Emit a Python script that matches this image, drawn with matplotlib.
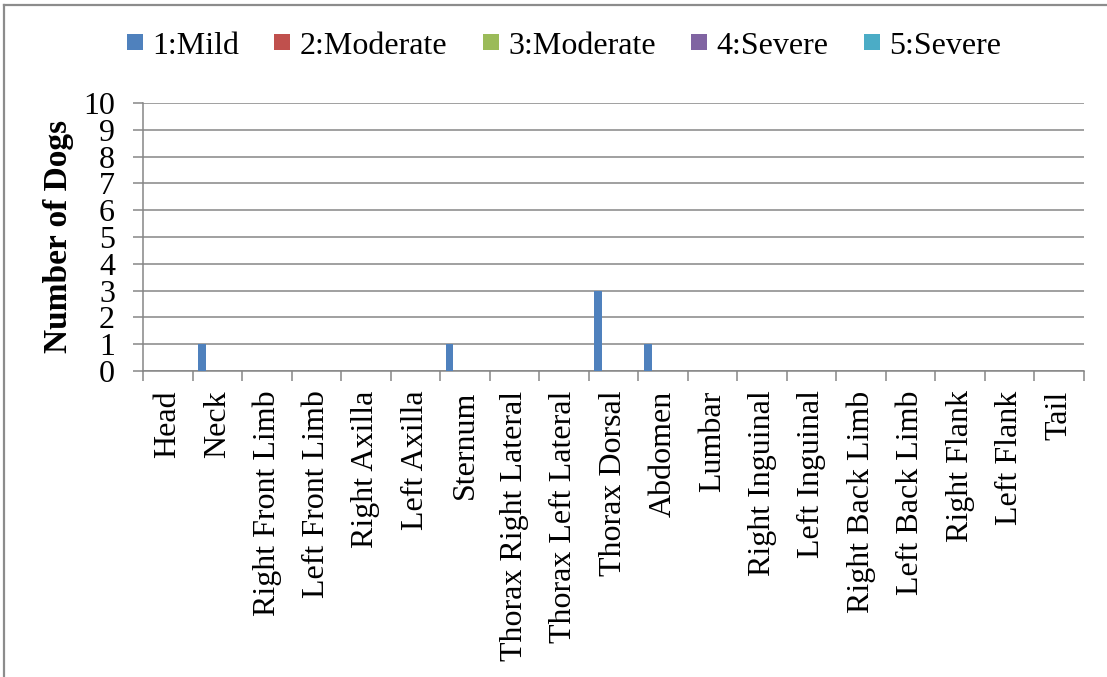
import matplotlib
matplotlib.use("Agg")
import matplotlib.pyplot as plt
import numpy as np
from matplotlib.lines import Line2D

# Body regions and number of dogs per severity grade
regions = ["Head", "Neck", "Right Front Limb", "Left Front Limb", "Right Axilla",
           "Left Axilla", "Sternum", "Thorax Right Lateral", "Thorax Left Lateral",
           "Thorax Dorsal", "Abdomen", "Lumbar", "Right Inguinal", "Left Inguinal",
           "Right Back Limb", "Left Back Limb", "Right Flank", "Left Flank", "Tail"]
series_names = ["1:Mild", "2:Moderate", "3:Moderate", "4:Severe", "5:Severe"]
mild =       [0, 1, 0, 0, 0, 0, 1, 0, 0, 3, 1, 0, 0, 0, 0, 0, 0, 0, 0]
moderate_2 = [0] * 19
moderate_3 = [0] * 19
severe_4 =   [0] * 19
severe_5 =   [0] * 19
series_values = [mild, moderate_2, moderate_3, severe_4, severe_5]
y_ticks = list(range(0, 11))

colors = ["#4F81BD", "#C0504D", "#9BBB59", "#8064A2", "#4BACC6"]
grid_col = "#868686"
serif = ["Liberation Serif", "DejaVu Serif"]

W, H = 1107, 677
fig = plt.figure(figsize=(W / 100, H / 100), dpi=100)
fig.patch.set_facecolor("white")

# chart area frame (top and left edges visible)
fig.add_artist(Line2D([4 / W, 4 / W], [0, 1 - 5 / H], color="#8c8c8c", lw=1.6))
fig.add_artist(Line2D([4 / W, 1], [1 - 5 / H, 1 - 5 / H], color="#8c8c8c", lw=1.6))

ax_l, ax_r, ax_t, ax_b = 143, 1084, 103, 371
ax = fig.add_axes([ax_l / W, 1 - ax_b / H, (ax_r - ax_l) / W, (ax_b - ax_t) / H])

n = len(regions)
x = np.arange(n)
bw = 1 / 6.5
for i, (vals, c) in enumerate(zip(series_values, colors)):
    ax.bar(x + (i - 2) * bw, vals, width=bw, color=c, linewidth=0, zorder=3)

ax.set_xlim(-0.5, n - 0.5)
ax.set_ylim(0, 10)
ax.set_yticks(y_ticks)
ax.set_yticklabels([str(v) for v in y_ticks], fontsize=23, family=serif)
ax.yaxis.grid(True, color=grid_col, lw=1.1, zorder=0)
ax.set_axisbelow(True)

ax.set_xticks(x)
ax.set_xticklabels(regions, rotation=90, fontsize=23, family=serif, va="top", ha="center")
ax.set_xticks(np.arange(-0.5, n, 1), minor=True)
ax.tick_params(axis="x", which="major", length=0, pad=14)
ax.tick_params(axis="x", which="minor", length=7.2, width=1.1, color=grid_col, direction="out")
ax.tick_params(axis="y", length=7.2, width=1.1, color=grid_col, direction="out", pad=13)

for s in ["top", "right"]:
    ax.spines[s].set_visible(False)
for s in ["left", "bottom"]:
    ax.spines[s].set_color(grid_col)
    ax.spines[s].set_linewidth(1.1)

fig.text(58 / W, 1 - 236 / H, "Number of Dogs", rotation=90, ha="center", va="center",
         fontsize=24, fontweight="bold", family=serif)

handles = [Line2D([], [], linestyle="none", marker="s", markersize=11,
                  markerfacecolor=c, markeredgewidth=0) for c in colors]
fig.legend(handles, series_names, loc="center", bbox_to_anchor=(564 / W, 1 - 46 / H),
           ncol=5, frameon=False, prop={"family": serif, "size": 23},
           handlelength=0.5, handletextpad=0.3, columnspacing=1.1)

fig.savefig("out.png", dpi=100, facecolor="white")
